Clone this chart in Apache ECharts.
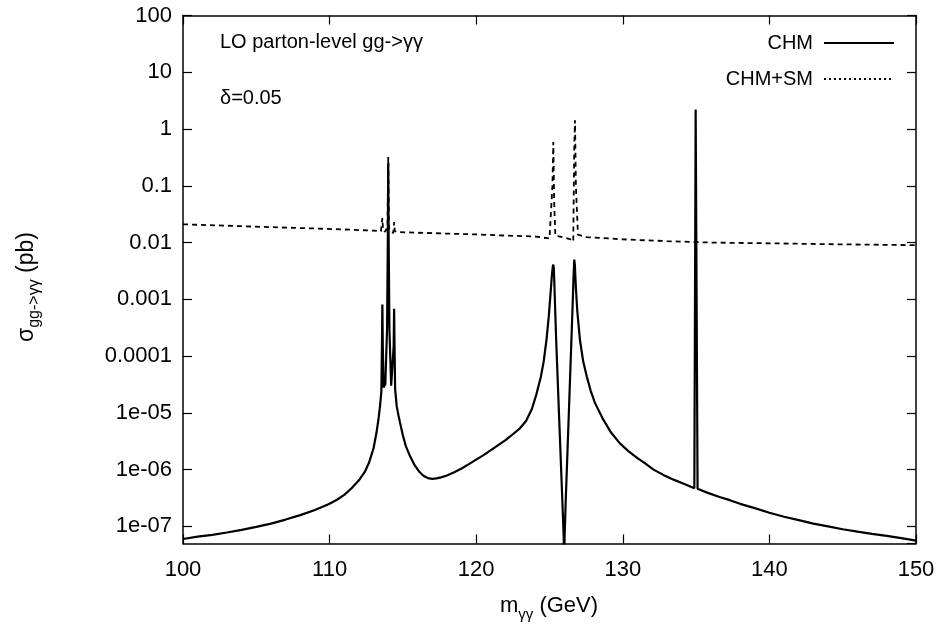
<!DOCTYPE html>
<html>
<head>
<meta charset="utf-8">
<script src="https://cdn.jsdelivr.net/npm/echarts@6/dist/echarts.min.js"></script>
<style>html,body{margin:0;padding:0;background:#fff;}#c{width:946px;height:635px;}</style>
</head>
<body>
<div id="c"></div>
<script>
// ---- data ----
const chmMass = [100,101,102,103,104,105,106,107,108,109,110,110.5,111,111.5,112,112.4,112.7,113.0,113.2,113.35,113.45,113.53,113.57,113.6,113.63,113.68,113.8,113.92,113.97,114.0,114.03,114.08,114.2,114.33,114.37,114.4,114.43,114.47,114.58,114.7,114.8,115.0,115.2,115.5,115.8,116.1,116.4,116.7,117.0,117.3,117.6,118,118.5,119,119.5,120,120.5,121,121.5,122,122.5,123,123.4,123.8,124.1,124.4,124.6,124.8,124.95,125.05,125.15,125.22,125.26,125.3,125.45,125.65,125.85,125.97,126.0,126.03,126.1,126.3,126.5,126.6,126.65,126.69,126.73,126.8,126.9,127.08,127.3,127.54,127.8,128.1,128.67,129.2,129.8,130.4,131,131.5,132.1,132.8,133.5,134.2,134.88,134.97,135.02,135.1,135.8,136.6,137.3,138,139,140,141,142,143,144,145,146,147,148,149,150];
const chmSigma = [6.0e-8,6.6e-8,7.1e-8,7.8e-8,8.7e-8,9.8e-8,1.12e-7,1.32e-7,1.58e-7,1.95e-7,2.5e-7,2.95e-7,3.6e-7,4.7e-7,6.5e-7,9.1e-7,1.35e-6,2.4e-6,4.5e-6,8.3e-6,1.4e-5,2.4e-5,1.5e-4,8.1e-4,1.5e-4,2.8e-5,3.2e-5,3e-4,0.01,0.25,0.01,3e-4,3.0e-5,2.8e-5,1.5e-4,6.8e-4,1.5e-4,2.6e-5,1.3e-5,9.0e-6,6.8e-6,4.0e-6,2.6e-6,1.7e-6,1.2e-6,9.3e-7,7.8e-7,7.1e-7,6.9e-7,7.0e-7,7.3e-7,7.9e-7,9.0e-7,1.05e-6,1.25e-6,1.5e-6,1.8e-6,2.2e-6,2.7e-6,3.3e-6,4.2e-6,5.4e-6,7.2e-6,1.17e-5,2.1e-5,4.2e-5,7.9e-5,2.0e-4,5.0e-4,1.07e-3,2.4e-3,3.7e-3,4.1e-3,3.4e-3,2.1e-4,9.3e-6,4.3e-7,6.4e-8,1.0e-8,6.4e-8,2.5e-7,7.2e-6,2.1e-4,1.2e-3,3.0e-3,5.0e-3,4.0e-3,1.6e-3,6.0e-4,1.9e-4,8.0e-5,4.4e-5,2.5e-5,1.5e-5,7.6e-6,4.5e-6,2.9e-6,2.1e-6,1.6e-6,1.3e-6,1.0e-6,8.0e-7,6.6e-7,5.6e-7,4.7e-7,2.2,2.2,4.6e-7,3.9e-7,3.3e-7,2.9e-7,2.5e-7,2.1e-7,1.74e-7,1.48e-7,1.29e-7,1.12e-7,1.0e-7,8.9e-8,8.1e-8,7.4e-8,6.8e-8,6.2e-8,5.6e-8];

const totMass = [100,103,106,109,111,113.0,113.5,113.55,113.6,113.65,113.8,113.95,114.0,114.05,114.2,114.35,114.4,114.45,114.6,116,118,120,122,124,125.0,125.1,125.2,125.26,125.32,125.4,125.9,126.4,126.62,126.69,126.74,126.8,126.94,127.5,130,133,136,140,145,150];
const totSigma = [0.021,0.0198,0.0187,0.0177,0.0170,0.0162,0.0158,0.0150,0.027,0.0160,0.0155,0.02,0.32,0.018,0.0152,0.0148,0.023,0.0160,0.0153,0.0149,0.0144,0.0139,0.0133,0.0128,0.0118,0.0120,0.1,0.59,0.05,0.0132,0.0125,0.0115,0.0104,0.5,1.43,0.1,0.0138,0.0125,0.0114,0.0106,0.0100,0.0097,0.0093,0.0090];

const seriesNames = ['CHM', 'CHM+SM'];
const xTickValues = [100,110,120,130,140,150];
const yTickValues = [1e-7,1e-6,1e-5,1e-4,1e-3,1e-2,0.1,1,10,100];
const yTickLabels = ['1e-07','1e-06','1e-05','0.0001','0.001','0.01','0.1','1','10','100'];

const pairs = (xs, ys) => xs.map((x, i) => [x, ys[i]]);

const FONT = 'Liberation Sans';
const chart = echarts.init(document.getElementById('c'));

function yLabel(v) {
  for (let i = 0; i < yTickValues.length; i++) {
    if (Math.abs(Math.log10(v) - Math.log10(yTickValues[i])) < 1e-6) return yTickLabels[i];
  }
  return '';
}

const axisLineStyle = { color: '#000', width: 1.5 };
const tickStyle = { show: true, inside: true, length: 9, lineStyle: { color: '#000', width: 1.2 } };

chart.setOption({
  animation: false,
  backgroundColor: '#fff',
  grid: { left: 183, right: 30, top: 15.5, bottom: 91.5, containLabel: false },
  xAxis: [
    { type: 'value', min: 100, max: 150, interval: 10, position: 'bottom',
      axisLine: { show: true, lineStyle: axisLineStyle }, axisTick: tickStyle,
      axisLabel: { color: '#000', fontSize: 22, fontFamily: FONT, margin: 15,
        formatter: v => xTickValues.indexOf(v) >= 0 ? String(v) : '' },
      splitLine: { show: false } },
    { type: 'value', min: 100, max: 150, interval: 10, position: 'top',
      axisLine: { show: true, lineStyle: axisLineStyle }, axisTick: tickStyle,
      axisLabel: { show: false }, splitLine: { show: false } }
  ],
  yAxis: [
    { type: 'log', logBase: 10, min: 5e-8, max: 100, splitNumber: 10, position: 'left',
      axisLine: { show: true, lineStyle: axisLineStyle }, axisTick: tickStyle,
      axisLabel: { color: '#000', fontSize: 22, fontFamily: FONT, margin: 11, showMinLabel: false, formatter: yLabel },
      splitLine: { show: false }, minorTick: { show: false } },
    { type: 'log', logBase: 10, min: 5e-8, max: 100, splitNumber: 10, position: 'right',
      axisLine: { show: true, lineStyle: axisLineStyle }, axisTick: tickStyle,
      axisLabel: { show: false }, splitLine: { show: false } }
  ],
  legend: {
    orient: 'vertical', right: 46, top: 28, align: 'right',
    itemWidth: 70, itemHeight: 20, itemGap: 16,
    itemStyle: { opacity: 0 },
    textStyle: { color: '#000', fontSize: 20, fontFamily: FONT, padding: [0, 6, 0, 0] },
    data: [
      { name: seriesNames[0] },
      { name: seriesNames[1], lineStyle: { type: [2, 3], width: 2 } }
    ]
  },
  series: [
    { name: seriesNames[0], type: 'line', data: pairs(chmMass, chmSigma), symbol: 'none',
      lineStyle: { color: '#000', width: 2.2 }, itemStyle: { color: '#000' }, clip: true, z: 3 },
    { name: seriesNames[1], type: 'line', data: pairs(totMass, totSigma), symbol: 'none',
      lineStyle: { color: '#000', width: 1.8, type: [5, 4] }, itemStyle: { color: '#000' }, clip: true, z: 2 }
  ],
  graphic: [
    { type: 'text', left: 220, top: 32, style: { text: 'LO parton-level gg->γγ', fill: '#000', font: '20px "Liberation Sans"' } },
    { type: 'text', left: 220, top: 88, style: { text: 'δ=0.05', fill: '#000', font: '20px "Liberation Sans"' } },
    { type: 'text', x: 549, y: 606,
      style: { text: '{m|m}{s|γγ}{m| (GeV)}', align: 'center', verticalAlign: 'middle', fill: '#000',
        rich: { m: { fontSize: 22, fontFamily: FONT, lineHeight: 32, fill: '#000' },
                s: { fontSize: 15, fontFamily: FONT, lineHeight: 15, verticalAlign: 'bottom', fill: '#000' } } } },
    { type: 'text', x: 27, y: 287, rotation: Math.PI / 2,
      style: { text: '{m|σ}{s|gg->γγ}{m| (pb)}', align: 'center', verticalAlign: 'middle', fill: '#000',
        rich: { m: { fontSize: 23, fontFamily: FONT, lineHeight: 32, fill: '#000' },
                s: { fontSize: 16, fontFamily: FONT, lineHeight: 16, verticalAlign: 'bottom', fill: '#000' } } } }
  ]
});
</script>
</body>
</html>
